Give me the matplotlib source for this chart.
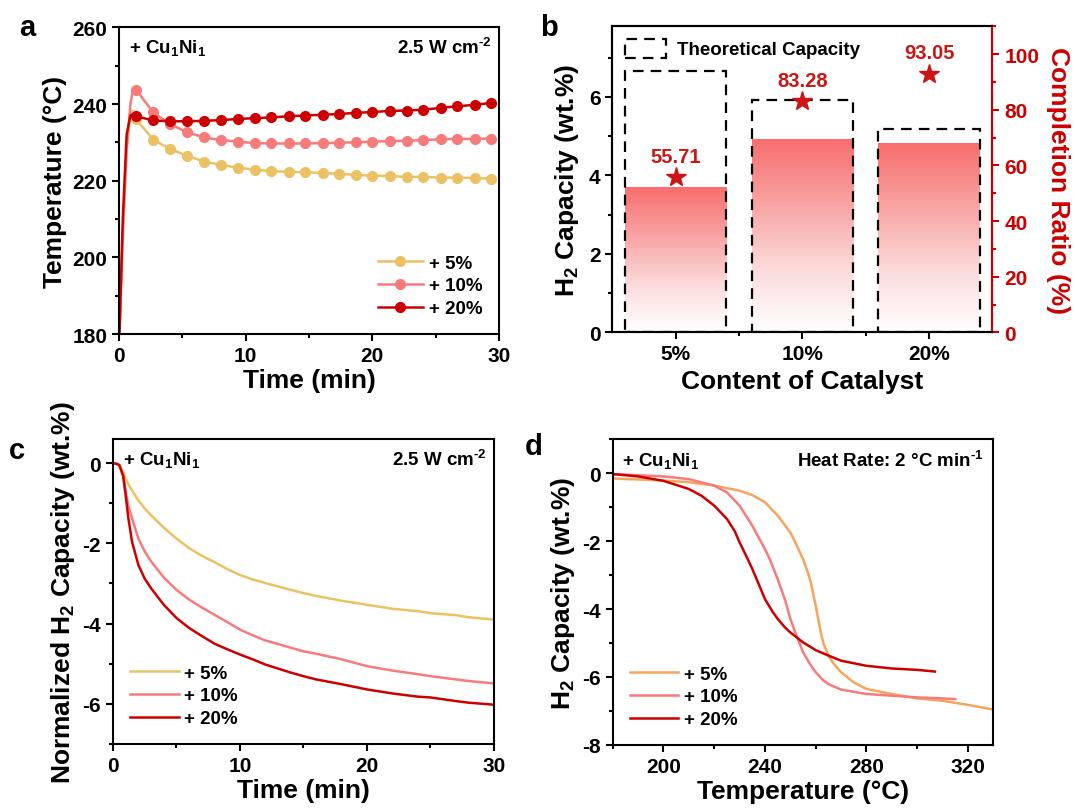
import numpy as np
import matplotlib
matplotlib.use('Agg')
import matplotlib.pyplot as plt
from matplotlib.patches import Rectangle, Patch
from matplotlib.colors import LinearSegmentedColormap
from matplotlib.ticker import MultipleLocator, FixedLocator

plt.rcParams.update({
    'font.family': ['Liberation Sans', 'DejaVu Sans'],
    'font.weight': 'bold',
    'axes.labelweight': 'bold',
    'axes.linewidth': 1.5,
    'axes.unicode_minus': False,
    'mathtext.fontset': 'custom',
    'mathtext.rm': 'Liberation Sans:bold',
    'mathtext.bf': 'Liberation Sans:bold',
    'mathtext.it': 'Liberation Sans:bold',
    'mathtext.default': 'bf',
})

YELLOW = '#EBC263'
ORANGE = '#F5A55E'
PINK = '#F87B7B'
RED = '#CC0000'
STAR_RED = '#CC1515'

# ---- panel a: temperature vs time ----
t_ramp = [0.0, 0.3, 0.6, 0.9, 1.1]
a5_ramp = [176, 206, 228, 238, 238.3]
a10_ramp = [176, 206, 228, 240, 243.5]
a20_ramp = [176, 210, 232, 237, 237.4]
t_a = [1.36, 2.7, 4.0, 5.4, 6.7, 8.05, 9.37, 10.7, 12.0, 13.4, 14.7,
       16.1, 17.4, 18.7, 20.0, 21.4, 22.7, 24.0, 25.4, 26.7, 28.1, 29.4]
a5 = [236.0, 230.7, 228.3, 226.5, 225.0, 224.1, 223.4, 222.9, 222.5, 222.3, 222.2,
      222.0, 221.8, 221.5, 221.3, 221.2, 221.0, 221.0, 220.8, 220.8, 220.7, 220.5]
a10 = [243.7, 237.8, 234.8, 232.6, 231.3, 230.6, 230.2, 229.8, 229.7, 229.7, 229.7,
       229.8, 229.9, 230.0, 230.2, 230.3, 230.4, 230.6, 230.8, 230.9, 230.9, 231.0]
a20 = [236.8, 235.7, 235.5, 235.5, 235.6, 235.8, 236.1, 236.3, 236.5, 236.8, 237.0,
       237.2, 237.4, 237.7, 237.9, 238.2, 238.3, 238.5, 239.0, 239.4, 239.8, 240.3]

# ---- panel b: capacity bars ----
cats = ['5%', '10%', '20%']
h2_cap = [3.69, 4.92, 4.80]
theo_cap = [6.67, 5.92, 5.18]
ratio = [55.71, 83.28, 93.05]

# ---- panel c: isothermal release ----
t_c = [0, 0.3, 0.5, 0.8, 1.0, 1.2, 1.5, 2.0, 2.5, 3, 4, 5, 6, 7, 8, 9, 10, 11, 12,
       14, 15, 16, 18, 20, 22, 24, 25, 27, 28, 30]
c5 = [0, -0.02, -0.05, -0.22, -0.39, -0.52, -0.68, -0.93, -1.13, -1.30, -1.61, -1.88,
      -2.12, -2.31, -2.47, -2.64, -2.79, -2.90, -2.99, -3.16, -3.24, -3.31, -3.43,
      -3.53, -3.63, -3.69, -3.74, -3.79, -3.84, -3.90]
c10 = [0, -0.02, -0.05, -0.30, -0.70, -1.05, -1.38, -1.88, -2.20, -2.45, -2.85, -3.16,
       -3.40, -3.60, -3.78, -3.96, -4.15, -4.29, -4.42, -4.60, -4.69, -4.75, -4.89,
       -5.06, -5.17, -5.26, -5.31, -5.39, -5.43, -5.49]
c20 = [0, -0.02, -0.05, -0.32, -0.80, -1.35, -1.96, -2.54, -2.88, -3.12, -3.53, -3.86,
       -4.11, -4.31, -4.50, -4.64, -4.77, -4.89, -5.02, -5.22, -5.31, -5.39, -5.51,
       -5.64, -5.74, -5.82, -5.84, -5.93, -5.97, -6.02]

# ---- panel d: TPD ----
T_d5 = [180, 200, 210, 220, 230, 235, 240, 245, 250, 252, 255, 257, 258, 259, 260,
        261, 262, 263, 265, 267, 270, 275, 280, 290, 300, 310, 320, 330]
d5 = [-0.16, -0.22, -0.27, -0.37, -0.52, -0.65, -0.86, -1.25, -1.75, -2.05, -2.53,
      -2.95, -3.2, -3.55, -3.9, -4.3, -4.69, -5.0, -5.37, -5.6, -5.86, -6.16, -6.35,
      -6.5, -6.63, -6.7, -6.82, -6.96]
T_d10 = [180, 200, 210, 220, 225, 230, 235, 240, 242, 245, 248, 250, 252, 255, 258,
         260, 263, 265, 270, 280, 290, 300, 310, 315]
d10 = [-0.03, -0.10, -0.18, -0.37, -0.57, -0.96, -1.55, -2.24, -2.55, -3.12, -3.75,
       -4.29, -4.70, -5.27, -5.65, -5.86, -6.10, -6.21, -6.37, -6.50, -6.55, -6.60,
       -6.63, -6.65]
T_d20 = [180, 190, 200, 210, 215, 220, 225, 228, 230, 233, 235, 238, 240, 243, 245,
         248, 250, 255, 260, 265, 270, 280, 290, 300, 307]
d20 = [-0.03, -0.10, -0.23, -0.47, -0.67, -0.96, -1.35, -1.70, -2.04, -2.50, -2.82,
       -3.35, -3.71, -4.08, -4.29, -4.55, -4.69, -4.98, -5.21, -5.37, -5.52, -5.67,
       -5.75, -5.79, -5.84]

TICK_FS = 15
LABEL_FS = 19
SMALL_FS = 13.5
CUNI = r'+ Cu$_{1}$Ni$_{1}$'
CM2 = r'2.5 W cm$^{\text{-2}}$'


def style_ax(ax):
    ax.tick_params(which='both', direction='out', width=1.5, labelsize=TICK_FS)
    ax.tick_params(which='major', length=5)
    ax.tick_params(which='minor', length=3)


fig = plt.figure(figsize=(10.75, 8.12), dpi=100)

# panel a
ax = fig.add_axes([0.1107, 0.5874, 0.3535, 0.3777])
for tr, yr, tm, ym, col, lab in [
        (t_ramp, a5_ramp, t_a, a5, YELLOW, '+ 5%'),
        (t_ramp, a10_ramp, t_a, a10, PINK, '+ 10%'),
        (t_ramp, a20_ramp, t_a, a20, RED, '+ 20%')]:
    ax.plot(tr + tm, yr + ym, color=col, lw=1.8, marker='o', ms=7,
            markevery=list(range(len(tr), len(tr) + len(tm))),
            mfc=col, mec=col, label=lab)
ax.set_xlim(0, 30)
ax.set_ylim(180, 260)
ax.xaxis.set_major_locator(MultipleLocator(10))
ax.xaxis.set_minor_locator(MultipleLocator(5))
ax.yaxis.set_major_locator(MultipleLocator(20))
ax.yaxis.set_minor_locator(MultipleLocator(10))
style_ax(ax)
ax.set_xlabel('Time (min)', fontsize=LABEL_FS, labelpad=2)
ax.set_ylabel('Temperature (°C)', fontsize=LABEL_FS, labelpad=4)
ax.text(0.025, 0.935, CUNI, transform=ax.transAxes, fontsize=SMALL_FS, va='center')
ax.text(0.98, 0.935, CM2, transform=ax.transAxes, fontsize=SMALL_FS,
        va='center', ha='right')
ax.legend(loc='lower right', frameon=False, fontsize=SMALL_FS, handlelength=2.4,
          labelspacing=0.3, handletextpad=0.3, borderaxespad=0.5)

# panel b
axb = fig.add_axes([0.5697, 0.5895, 0.3535, 0.3768])
x = np.arange(1, len(cats) + 1)
cmap = LinearSegmentedColormap.from_list('fade', ['#FFFFFF', '#FCDADA', '#F9A3A3', '#F86E6E'])
grad = np.linspace(0, 1, 256).reshape(-1, 1)
for xi, h, th in zip(x, h2_cap, theo_cap):
    axb.imshow(grad, extent=[xi - 0.4, xi + 0.4, 0, h], origin='lower',
               aspect='auto', cmap=cmap, zorder=1)
    axb.add_patch(Rectangle((xi - 0.4, 0), 0.8, th, fill=False, ec='black',
                            lw=1.6, ls=(0, (4.8, 3.2)), zorder=2))
axb.set_xlim(0.5, 3.5)
axb.set_ylim(0, 7.8)
axb.set_xticks(x)
axb.set_xticklabels(cats)
axb.xaxis.set_minor_locator(FixedLocator([1.5, 2.5]))
axb.yaxis.set_major_locator(MultipleLocator(2))
axb.yaxis.set_minor_locator(MultipleLocator(1))
style_ax(axb)
axb.set_xlabel('Content of Catalyst', fontsize=LABEL_FS, labelpad=4)
axb.set_ylabel(r'H$_{2}$ Capacity (wt.%)', fontsize=LABEL_FS, labelpad=6)
leg_patch = Patch(facecolor='none', edgecolor='black', lw=1.6, ls=(0, (4.8, 3.2)))
axb.legend([leg_patch], ['Theoretical Capacity'], loc='upper left', frameon=False,
           fontsize=SMALL_FS, handlelength=2.2, handleheight=1.2,
           handletextpad=0.6, borderaxespad=0.25)

axr = axb.twinx()
axr.plot(x, ratio, ls='none', marker='*', ms=15, color=STAR_RED, zorder=5)
for xi, r in zip(x, ratio):
    axr.annotate(f'{r:.2f}', (xi, r), xytext=(0, 8), textcoords='offset points',
                 ha='center', va='bottom', color=STAR_RED, fontsize=14.5)
axr.set_ylim(0, 110)
axr.yaxis.set_major_locator(MultipleLocator(20))
axr.yaxis.set_minor_locator(MultipleLocator(10))
style_ax(axr)
axr.tick_params(axis='y', which='both', colors=RED)
axr.spines['right'].set_color(RED)
axr.set_ylabel('Completion Ratio (%)', fontsize=LABEL_FS, color=RED,
               rotation=270, labelpad=22)

# panel c
axc = fig.add_axes([0.1051, 0.0825, 0.3544, 0.3756])
axc.plot(t_c, c5, color=YELLOW, lw=1.8, label='+ 5%')
axc.plot(t_c, c10, color=PINK, lw=1.8, label='+ 10%')
axc.plot(t_c, c20, color=RED, lw=1.8, label='+ 20%')
axc.set_xlim(0, 30)
axc.set_ylim(-7, 0.6)
axc.xaxis.set_major_locator(MultipleLocator(10))
axc.xaxis.set_minor_locator(MultipleLocator(5))
axc.yaxis.set_major_locator(MultipleLocator(2))
axc.yaxis.set_minor_locator(MultipleLocator(1))
style_ax(axc)
axc.set_xlabel('Time (min)', fontsize=LABEL_FS, labelpad=2)
axc.set_ylabel(r'Normalized H$_{2}$ Capacity (wt.%)', fontsize=LABEL_FS, labelpad=4)
axc.text(0.025, 0.934, CUNI, transform=axc.transAxes, fontsize=SMALL_FS, va='center')
axc.text(0.98, 0.934, CM2, transform=axc.transAxes, fontsize=SMALL_FS,
         va='center', ha='right')
axc.legend(loc='lower left', frameon=False, fontsize=SMALL_FS, handlelength=2.6,
           labelspacing=0.3, handletextpad=0.3, borderaxespad=0.5)

# panel d
axd = fig.add_axes([0.570, 0.0813, 0.354, 0.3768])
axd.plot(T_d5, d5, color=ORANGE, lw=1.8, label='+ 5%')
axd.plot(T_d10, d10, color=PINK, lw=1.8, label='+ 10%')
axd.plot(T_d20, d20, color=RED, lw=1.8, label='+ 20%')
axd.set_xlim(180, 330)
axd.set_ylim(-8, 1)
axd.xaxis.set_major_locator(MultipleLocator(40))
axd.xaxis.set_minor_locator(MultipleLocator(20))
axd.yaxis.set_major_locator(MultipleLocator(2))
axd.yaxis.set_minor_locator(MultipleLocator(1))
style_ax(axd)
axd.set_xlabel('Temperature (°C)', fontsize=LABEL_FS, labelpad=2)
axd.set_ylabel(r'H$_{2}$ Capacity (wt.%)', fontsize=LABEL_FS, labelpad=4)
axd.text(0.025, 0.93, CUNI, transform=axd.transAxes, fontsize=SMALL_FS, va='center')
axd.text(0.975, 0.93, r'Heat Rate: 2 °C min$^{\text{-1}}$', transform=axd.transAxes,
         fontsize=SMALL_FS, va='center', ha='right')
axd.legend(loc='lower left', frameon=False, fontsize=SMALL_FS, handlelength=2.6,
           labelspacing=0.3, handletextpad=0.3, borderaxespad=0.5)

# panel letters
for px, py, letter in [(0.018, 0.965, 'a'), (0.502, 0.965, 'b'),
                       (0.008, 0.445, 'c'), (0.488, 0.45, 'd')]:
    fig.text(px, py, letter, fontsize=21, fontweight='bold', va='center')

fig.savefig('out.png', dpi=100)
